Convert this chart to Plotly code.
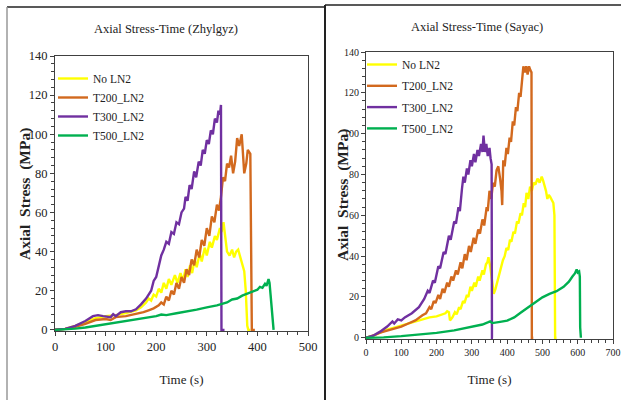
import plotly.graph_objects as go

# ---------------- data: Zhylgyz (left) ----------------
zh_no_t = [0, 20, 40, 60, 80, 100, 120, 140, 160, 170, 180, 185, 190, 195, 200, 205, 210, 215, 220, 225, 230, 237, 242, 248, 253, 258, 262, 267, 271, 276, 280, 286, 290, 296, 300, 306, 310, 316, 320, 326, 329, 333, 336, 340, 345, 350, 354, 358, 362, 366, 370, 374, 377, 380, 382, 386]
zh_no_s = [0, 0.5, 2, 4, 6, 7, 7.5, 8.5, 10, 11.5, 14, 16, 15, 18, 17, 21, 19, 24, 21, 26, 23, 28, 24, 29, 25, 31, 27, 33, 29, 36, 32, 39, 35, 42, 38, 45, 42, 48, 46, 52, 50, 55, 48, 40, 38, 41, 37, 40, 41, 37, 34, 30, 20, 2, 0, 0]

zh_200_t = [0, 20, 40, 60, 80, 100, 110, 120, 140, 160, 175, 185, 195, 205, 210, 215, 220, 225, 230, 235, 240, 245, 250, 255, 260, 265, 270, 275, 280, 285, 290, 295, 300, 305, 310, 315, 320, 324, 328, 332, 336, 340, 344, 348, 352, 356, 360, 364, 369, 374, 378, 381, 386, 389, 395]
zh_200_s = [0, 0.5, 1.5, 3, 5, 5.5, 5, 6.5, 7, 8, 9, 10, 11, 12.5, 14, 13, 17, 15, 20, 18, 24, 21, 27, 24, 31, 28, 36, 33, 41, 37, 46, 43, 52, 48, 58, 55, 64, 61, 68, 78, 76, 85, 83, 89, 80, 86, 98, 94, 100, 80, 85, 92, 90, 0, 0]

zh_300_t = [0, 20, 40, 60, 75, 85, 95, 110, 115, 120, 130, 140, 150, 160, 170, 180, 190, 195, 200, 205, 210, 215, 220, 225, 230, 235, 240, 245, 250, 255, 258, 262, 266, 270, 275, 279, 284, 288, 292, 296, 300, 304, 308, 312, 316, 320, 323, 326, 328, 329, 335]
zh_300_s = [0, 0.5, 2, 4.5, 7, 7.5, 7, 6.5, 8, 7, 9, 9.5, 9.5, 10.5, 13, 16, 20, 25, 27, 32, 38, 41, 45, 44, 50, 49, 55, 54, 60, 62, 68, 66, 74, 72, 81, 78, 86, 84, 92, 90, 97, 95, 102, 100, 108, 106, 112, 110, 115, 0, 0]

zh_500_t = [0, 20, 40, 60, 80, 100, 120, 140, 160, 180, 200, 210, 220, 240, 260, 280, 300, 320, 340, 350, 360, 370, 380, 390, 400, 405, 410, 415, 418, 422, 424, 426, 428, 430, 432]
zh_500_s = [0, 0.2, 0.6, 1.2, 2, 2.8, 3.6, 4.5, 5.3, 6.2, 7, 7.8, 7.5, 8.5, 9.3, 10.3, 11.5, 12.5, 14, 15.5, 16, 17.5, 18.5, 19.5, 20.5, 22, 21.5, 23.5, 22.5, 26, 24, 18, 11, 9, 0]

# ---------------- data: Sayac (right) ----------------
sa_no_t = [0, 20, 40, 60, 80, 100, 120, 140, 160, 180, 200, 215, 225, 230, 235, 238, 245, 252, 257, 264, 268, 275, 279, 286, 290, 296, 300, 307, 311, 318, 322, 330, 334, 340, 344, 347, 352, 358, 362, 367, 373, 378, 383, 388, 393, 398, 403, 408, 412, 418, 422, 428, 432, 438, 442, 447, 451, 455, 460, 465, 470, 475, 480, 486, 492, 498, 502, 506, 510, 514, 518, 522, 527, 531, 534, 536, 540]
sa_no_s = [0, 1, 2.5, 4, 5, 6, 7, 8, 9, 10, 10.5, 11.5, 12, 13, 12.5, 8.5, 10, 12.5, 11.5, 15, 14, 18, 17, 21, 20, 25, 23, 27, 25, 30, 28, 33, 31, 36, 37, 39.5, 35, 27, 21.5, 24, 28, 31, 35, 38, 40, 44, 43, 48, 47, 52, 51, 57, 56, 61, 60, 66, 64, 71, 68, 74, 72, 76, 75, 78, 76, 79, 77, 75, 72, 68, 70, 69, 67, 66, 60, 0, 0]

sa_200_t = [0, 20, 40, 60, 80, 100, 120, 140, 160, 170, 180, 185, 192, 197, 205, 210, 217, 222, 230, 235, 242, 247, 255, 260, 268, 273, 280, 285, 292, 297, 305, 310, 318, 323, 330, 335, 342, 345, 350, 355, 360, 365, 370, 375, 380, 384, 386, 389, 393, 398, 402, 407, 411, 416, 420, 425, 429, 434, 438, 442, 446, 450, 454, 458, 462, 466, 469, 470, 474]
sa_200_s = [0, 1, 2.5, 3.5, 4.5, 5.5, 7, 8.5, 11, 12, 15, 14, 18, 17, 21, 19, 24, 22, 27, 25, 30, 28, 33, 31, 37, 34, 41, 38, 45, 42, 49, 46, 53, 51, 58, 55, 64, 62, 72, 68, 76, 74, 82, 84, 78, 72, 65, 87, 84, 93, 90, 98, 96, 106, 104, 113, 111, 120, 118, 127, 133, 130, 133, 129, 133, 131, 130, 0, 0]

sa_300_t = [0, 20, 40, 60, 75, 80, 90, 100, 110, 130, 150, 165, 175, 180, 190, 195, 205, 210, 220, 225, 235, 240, 250, 255, 262, 266, 272, 276, 280, 286, 290, 296, 300, 306, 310, 316, 320, 326, 330, 333, 337, 341, 345, 350, 353, 356, 357, 360]
sa_300_s = [0, 1, 3, 5.5, 8, 7, 9, 8.5, 10, 12, 15, 19, 23, 22, 28, 27, 35, 34, 42, 41, 50, 48, 57, 56, 64, 62, 73, 79, 76, 83, 80, 87, 84, 90, 86, 92, 89, 95, 91, 99, 91, 95, 89, 93, 88, 85, 0, 0]

sa_500_t = [0, 50, 100, 150, 200, 250, 300, 330, 345, 352, 358, 365, 380, 400, 420, 440, 460, 480, 500, 520, 540, 560, 575, 585, 592, 597, 600, 604, 606, 607, 609]
sa_500_s = [0, 0.2, 0.8, 1.5, 2.4, 3.6, 5.2, 6.5, 7.5, 8, 7.2, 7.3, 7.8, 8.4, 10, 12.5, 15, 17.5, 19.8, 21.5, 22.8, 25, 27.5, 30, 31.5, 33.5, 32, 32.5, 30, 5, 0]

names = ["No LN2", "T200_LN2", "T300_LN2", "T500_LN2"]
colors = ["#FFFF00", "#D2691E", "#7030A0", "#00B050"]
y_title = "<b>Axial  Stress  (MPa)</b>"
x_title = "Time (s)"
panel_titles = ["Axial Stress-Time (Zhylgyz)", "Axial Stress-Time (Sayac)"]

left_series = [(zh_no_t, zh_no_s), (zh_200_t, zh_200_s), (zh_300_t, zh_300_s), (zh_500_t, zh_500_s)]
right_series = [(sa_no_t, sa_no_s), (sa_200_t, sa_200_s), (sa_300_t, sa_300_s), (sa_500_t, sa_500_s)]

fig = go.Figure()
for (t, s), n, c in zip(left_series, names, colors):
    fig.add_trace(go.Scatter(x=t, y=s, mode="lines", name=n, line=dict(color=c, width=2.4),
                             xaxis="x", yaxis="y", legend="legend", legendgroup="L" + n))
for (t, s), n, c in zip(right_series, names, colors):
    fig.add_trace(go.Scatter(x=t, y=s, mode="lines", name=n, line=dict(color=c, width=2.4),
                             xaxis="x2", yaxis="y2", legend="legend2", legendgroup="R" + n))

W, H = 621, 400
def px(x): return x / W
def py(y): return 1 - y / H

serif = "Liberation Serif"
axcol = "#404040"
txtcol = "#222"

def axis_common(size):
    return dict(showline=True, linecolor=axcol, linewidth=1.2, mirror=True, automargin=False,
                ticks="outside", ticklen=4, tickcolor=axcol, showgrid=False, zeroline=False,
                ticklabeloverflow="allow",
                tickfont=dict(family=serif, size=size, color=txtcol))

fig.update_layout(
    width=W, height=H, margin=dict(l=0, r=0, t=0, b=0),
    paper_bgcolor="white", plot_bgcolor="white",
    xaxis=dict(domain=[px(55), px(308)], range=[0, 500], dtick=100, anchor="y",
               minor=dict(dtick=20, ticks="outside", ticklen=2.5, tickcolor=axcol),
               title=dict(text=x_title, font=dict(family=serif, size=13, color=txtcol), standoff=21),
               **axis_common(12.5)),
    yaxis=dict(domain=[py(331), py(56)], range=[-0.6, 140], dtick=20, anchor="x",
               minor=dict(dtick=4, ticks="outside", ticklen=2.5, tickcolor=axcol),
               **axis_common(12.5)),
    xaxis2=dict(domain=[px(366), px(613)], range=[0, 700], dtick=100, anchor="y2",
                minor=dict(dtick=20, ticks="outside", ticklen=2.5, tickcolor=axcol),
                title=dict(text=x_title, font=dict(family=serif, size=13, color=txtcol), standoff=17),
                **axis_common(10)),
    yaxis2=dict(domain=[py(339), py(52)], range=[-0.6, 140], dtick=20, anchor="x2",
                minor=dict(dtick=4, ticks="outside", ticklen=2.5, tickcolor=axcol),
                **axis_common(10)),
    legend=dict(x=px(53), y=py(64), xanchor="left", yanchor="top", bgcolor="rgba(0,0,0,0)",
                font=dict(family=serif, size=11.5, color=txtcol), itemwidth=30, tracegroupgap=0),
    legend2=dict(x=px(362), y=py(50), xanchor="left", yanchor="top", bgcolor="rgba(0,0,0,0)",
                 font=dict(family=serif, size=11.5, color=txtcol), itemwidth=30, tracegroupgap=2.3),
    showlegend=True,
    annotations=[
        dict(text=panel_titles[0], x=px(166), y=py(29), xref="paper", yref="paper",
             xanchor="center", yanchor="middle",
             showarrow=False, font=dict(family=serif, size=12.5, color=txtcol)),
        dict(text=panel_titles[1], x=px(477), y=py(27), xref="paper", yref="paper",
             xanchor="center", yanchor="middle",
             showarrow=False, font=dict(family=serif, size=12.5, color=txtcol)),
        dict(text=y_title, x=px(25), y=py(194), xref="paper", yref="paper", textangle=-90,
             xanchor="center", yanchor="middle",
             showarrow=False, font=dict(family=serif, size=15.5, color=txtcol)),
        dict(text=y_title, x=px(343), y=py(195), xref="paper", yref="paper", textangle=-90,
             xanchor="center", yanchor="middle",
             showarrow=False, font=dict(family=serif, size=15.5, color=txtcol)),
    ],
    shapes=[
        dict(type="line", xref="paper", yref="paper", x0=px(7), x1=px(325), y0=py(7), y1=py(7),
             line=dict(color="#222", width=1.5)),
        dict(type="line", xref="paper", yref="paper", x0=px(7), x1=px(7), y0=py(7), y1=0,
             line=dict(color="#999", width=1.5)),
        dict(type="line", xref="paper", yref="paper", x0=px(325), x1=px(325), y0=py(5), y1=0,
             line=dict(color="#222", width=2)),
        dict(type="line", xref="paper", yref="paper", x0=px(325), x1=1, y0=py(5), y1=py(5),
             line=dict(color="#222", width=1.5)),
    ],
)

fig.write_html("out.html", config={"displayModeBar": False},
               post_script="document.body.style.margin='0px';document.body.style.overflow='hidden';")
